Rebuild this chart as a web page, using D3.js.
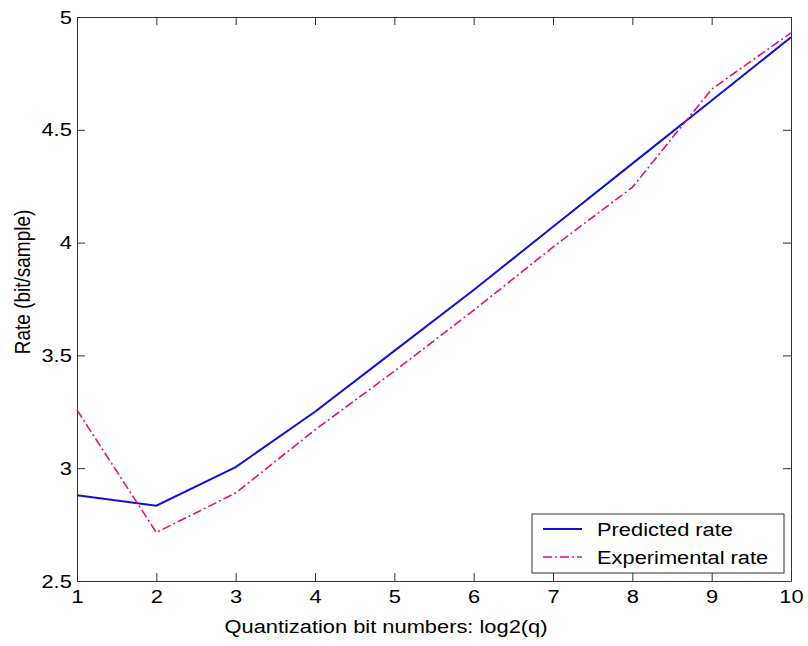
<!DOCTYPE html>
<html>
<head>
<meta charset="utf-8">
<script src="https://cdn.jsdelivr.net/npm/d3@7"></script>
<style>
  body { margin: 0; background: #fff; }
  svg { font-family: "Liberation Sans", Arial, sans-serif; }
  .axis path, .axis line { stroke: #333; }
  .axis text { font-size: 19px; fill: #000; }
</style>
</head>
<body>
<div id="chart"></div>
<script>
const xValues = [1, 2, 3, 4, 5, 6, 7, 8, 9, 10];
const predicted = [2.88, 2.834, 3.005, 3.25, 3.52, 3.79, 4.07, 4.35, 4.63, 4.91];
const experimental = [3.258, 2.715, 2.89, 3.17, 3.43, 3.70, 3.98, 4.245, 4.68, 4.93];
const xTicks = [1, 2, 3, 4, 5, 6, 7, 8, 9, 10];
const yTicks = [2.5, 3, 3.5, 4, 4.5, 5];
const seriesNames = ["Predicted rate", "Experimental rate"];

var margin = { top: 17, right: 17, bottom: 65, left: 77 },
  width = 808 - margin.left - margin.right,
  height = 646 - margin.top - margin.bottom;
var stretch = "scale(1.15,1)"; // the original text looks a bit wide

var xScale = d3.scaleLinear().domain([1, 10]).range([0, width]);
var yScale = d3.scaleLinear().domain([2.5, 5]).range([height, 0]);

var svg = d3.select("#chart").append("svg")
  .attr("width", 808).attr("height", 646)
  .append("g")
  .attr("transform", "translate(" + margin.left + "," + margin.top + ")");

// box + inward ticks, matlab style
svg.append("g").attr("class", "axis")
  .attr("transform", "translate(0," + height + ")")
  .call(d3.axisBottom(xScale).tickValues(xTicks).tickSizeInner(-8).tickSizeOuter(0).tickPadding(9))
  .selectAll("text").attr("dy", "0.71em").attr("transform", stretch);
svg.append("g").attr("class", "axis")
  .call(d3.axisTop(xScale).tickValues(xTicks).tickSizeInner(-8).tickSizeOuter(0).tickFormat(""));
svg.append("g").attr("class", "axis")
  .call(d3.axisLeft(yScale).tickValues(yTicks).tickSizeInner(-8).tickSizeOuter(0).tickPadding(4.5)
    .tickFormat(d3.format("")))
  .selectAll("text").attr("transform", stretch);
svg.append("g").attr("class", "axis")
  .attr("transform", "translate(" + width + ",0)")
  .call(d3.axisRight(yScale).tickValues(yTicks).tickSizeInner(-8).tickSizeOuter(0).tickFormat(""));

var line = d3.line()
  .x(function (d, i) { return xScale(xValues[i]); })
  .y(function (d) { return yScale(d); });

svg.append("path").datum(predicted)
  .attr("fill", "none").attr("stroke", "#1010d8").attr("stroke-width", 2)
  .attr("d", line);
svg.append("path").datum(experimental)
  .attr("fill", "none").attr("stroke", "#e0107f").attr("stroke-width", 1.6)
  .attr("stroke-dasharray", "9,3,2,3")
  .attr("d", line);

// axis labels
svg.append("text")
  .attr("transform", "translate(" + (386 - margin.left) + "," + (height + 52) + ") " + stretch)
  .attr("text-anchor", "middle").style("font-size", "19px")
  .text("Quantization bit numbers: log2(q)");
svg.append("text")
  .attr("transform", "translate(" + (30 - margin.left) + "," + (282 - margin.top) + ") " + stretch + " rotate(-90)")
  .attr("text-anchor", "middle").style("font-size", "19px")
  .text("Rate (bit/sample)");

// legend
var lg = svg.append("g").attr("transform", "translate(" + (532 - margin.left) + "," + (514 - margin.top) + ")");
lg.append("rect").attr("width", 252).attr("height", 59)
  .attr("fill", "#fff").attr("stroke", "#333");
var styles = [
  { c: "#1010d8", w: 2, d: null },
  { c: "#e0107f", w: 1.6, d: "9,3,2,3" }
];
seriesNames.forEach(function (name, i) {
  var y = 15 + i * 28;
  lg.append("line").attr("x1", 11).attr("x2", 50).attr("y1", y).attr("y2", y)
    .attr("stroke", styles[i].c).attr("stroke-width", styles[i].w)
    .attr("stroke-dasharray", styles[i].d);
  lg.append("text").attr("transform", "translate(65," + y + ") " + stretch)
    .attr("dy", "0.35em")
    .style("font-size", "19px").text(name);
});
</script>
</body>
</html>
